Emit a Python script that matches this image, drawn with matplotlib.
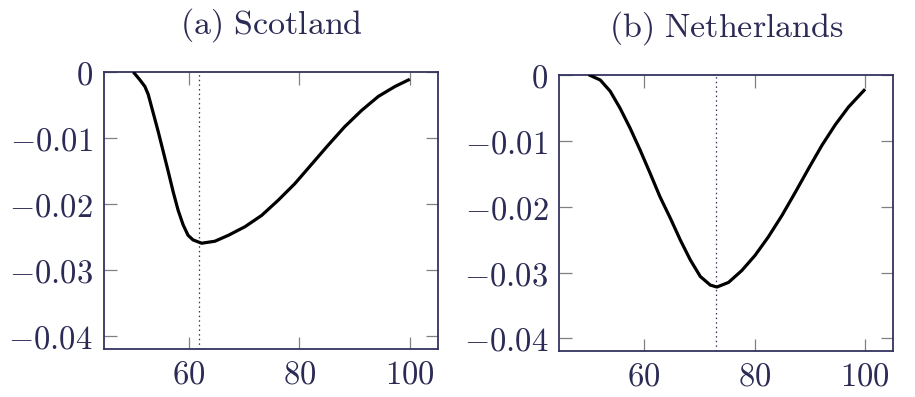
import matplotlib
matplotlib.use("Agg")
import matplotlib.pyplot as plt

plt.rcParams['mathtext.fontset'] = 'cm'
plt.rcParams['font.family'] = ['DejaVu Serif']

# Data
scot_x = [50.0, 51.2, 52.1, 52.7, 53.6, 54.5, 55.4, 56.3, 57.2, 58.1, 59.0, 59.9, 60.8, 62.35,
          64.75, 67.2, 70.2, 73.2, 76.2, 79.2, 82.2, 85.2, 88.2, 91.3, 94.3, 97.3, 100.0]
scot_y = [0.0, -0.0012, -0.0022, -0.0034, -0.0062, -0.0090, -0.0120, -0.0150, -0.0181, -0.0209,
          -0.0231, -0.0247, -0.0254, -0.0259, -0.0256, -0.0247, -0.0234, -0.0217, -0.0194, -0.0169,
          -0.0140, -0.0111, -0.0083, -0.0058, -0.0037, -0.0022, -0.0011]
neth_x = [50.0, 52.1, 53.9, 55.7, 57.5, 59.3, 61.1, 62.9, 64.8, 66.6, 68.4, 70.2, 72.0, 73.2,
          75.3, 77.7, 80.1, 82.5, 85.0, 87.4, 89.8, 92.2, 94.6, 97.0, 100.0]
neth_y = [0.0, -0.0008, -0.0025, -0.0051, -0.0081, -0.0114, -0.0149, -0.0185, -0.0218, -0.0251,
          -0.0281, -0.0306, -0.0319, -0.0322, -0.0315, -0.0297, -0.0274, -0.0246, -0.0213, -0.0178,
          -0.0142, -0.0107, -0.0076, -0.0049, -0.0022]
scot_vline = 61.8
neth_vline = 73.0
titles = [r'$\mathrm{(a)\ Scotland}$', r'$\mathrm{(b)\ Netherlands}$']
xticks = [60, 80, 100]
yticks = [0, -0.01, -0.02, -0.03, -0.04]
ytick_labels = [r'$0$', r'$-0.01$', r'$-0.02$', r'$-0.03$', r'$-0.04$']
xtick_labels = [r'$60$', r'$80$', r'$100$']

TEXT = '#2b2b55'
SPINE = '#333360'
TICK = '#808080'

fig = plt.figure(figsize=(9.15, 3.97), dpi=100)
ax1 = fig.add_axes([104/915, 48/397, 334/915, 277/397])
ax2 = fig.add_axes([559.3/915, 46/397, 334/915, 276.3/397])

for ax, xs, ys, vx, title in [(ax1, scot_x, scot_y, scot_vline, titles[0]),
                              (ax2, neth_x, neth_y, neth_vline, titles[1])]:
    ax.plot(xs, ys, color='black', lw=2.3, solid_joinstyle='round', solid_capstyle='butt', zorder=3)
    ax.axvline(vx, color=SPINE, lw=0.9, linestyle=(0, (1.2, 2.5)), zorder=2)
    ax.set_xlim(44.7, 105.1)
    ax.set_ylim(-0.0419, 0)
    ax.set_xticks(xticks)
    ax.set_xticklabels(xtick_labels)
    ax.set_yticks(yticks)
    ax.set_yticklabels(ytick_labels)
    ax.tick_params(direction='in', length=9, width=0.9, color=TICK, labelsize=23.5,
                   labelcolor=TEXT, top=True, right=True)
    ax.tick_params(axis='x', pad=7)
    ax.tick_params(axis='y', pad=8)
    for s in ax.spines.values():
        s.set_color(SPINE)
        s.set_linewidth(1.3)
    ax.set_title(title, fontsize=24.5, color=TEXT, pad=27.5)

fig.savefig('out.png', dpi=100)
